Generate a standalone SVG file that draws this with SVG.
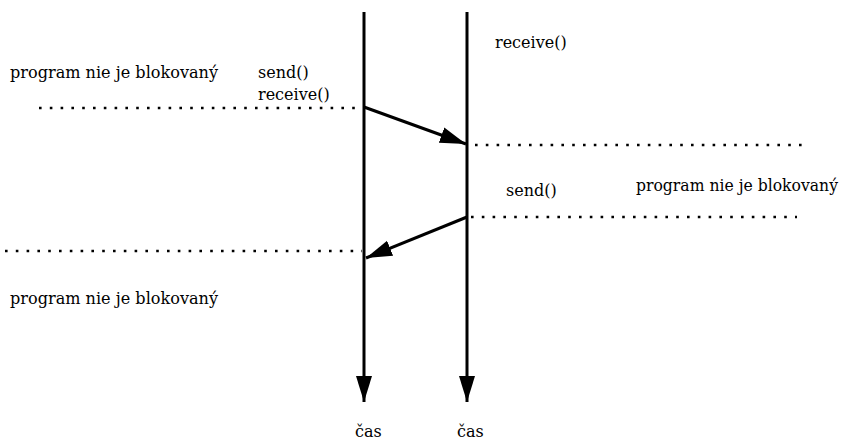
<svg xmlns="http://www.w3.org/2000/svg" width="842" height="441" viewBox="0 0 842 441">
<style>
.t{font-family:"DejaVu Serif","Liberation Serif",serif;font-size:16px;fill:#000}
.life{stroke:#000;stroke-width:3;fill:none}
.msg{stroke:#000;stroke-width:3;fill:none}
.dot{stroke:#000;stroke-width:2.6;stroke-dasharray:2.6 8.2;fill:none}
</style>
<defs>
<marker id="ah" markerUnits="userSpaceOnUse" markerWidth="28" markerHeight="18" refX="26" refY="9" orient="auto">
<path d="M0,1 L26,9 L0,17 Z" fill="#000"/>
</marker>
</defs>
<rect width="842" height="441" fill="#fff"/>
<g id="lifeline-left"><line class="life" x1="364" y1="12" x2="364" y2="402" marker-end="url(#ah)"/><text class="t" x="355" y="437">čas</text></g>
<g id="lifeline-right"><line class="life" x1="467" y1="12" x2="467" y2="402" marker-end="url(#ah)"/><text class="t" x="457" y="437">čas</text></g>
<g id="labels">
<text class="t" x="10" y="78" textLength="208" lengthAdjust="spacingAndGlyphs">program nie je blokovaný</text>
<text class="t" x="258" y="78">send()</text>
<text class="t" x="258" y="100">receive()</text>
<text class="t" x="495" y="48">receive()</text>
<text class="t" x="506" y="196">send()</text>
<text class="t" x="636" y="191" textLength="202" lengthAdjust="spacingAndGlyphs">program nie je blokovaný</text>
<text class="t" x="10" y="304" textLength="208" lengthAdjust="spacingAndGlyphs">program nie je blokovaný</text>
</g>
<g id="connectors">
<line class="dot" x1="39" y1="108" x2="362" y2="108"/>
<line class="dot" x1="475" y1="145" x2="802" y2="145"/>
<line class="dot" x1="471" y1="217" x2="797" y2="217"/>
<line class="dot" x1="5" y1="251" x2="362" y2="251"/>
<line class="msg" x1="364" y1="107" x2="466" y2="144" marker-end="url(#ah)"/>
<line class="msg" x1="467" y1="217" x2="366" y2="258" marker-end="url(#ah)"/>
</g>
</svg>
